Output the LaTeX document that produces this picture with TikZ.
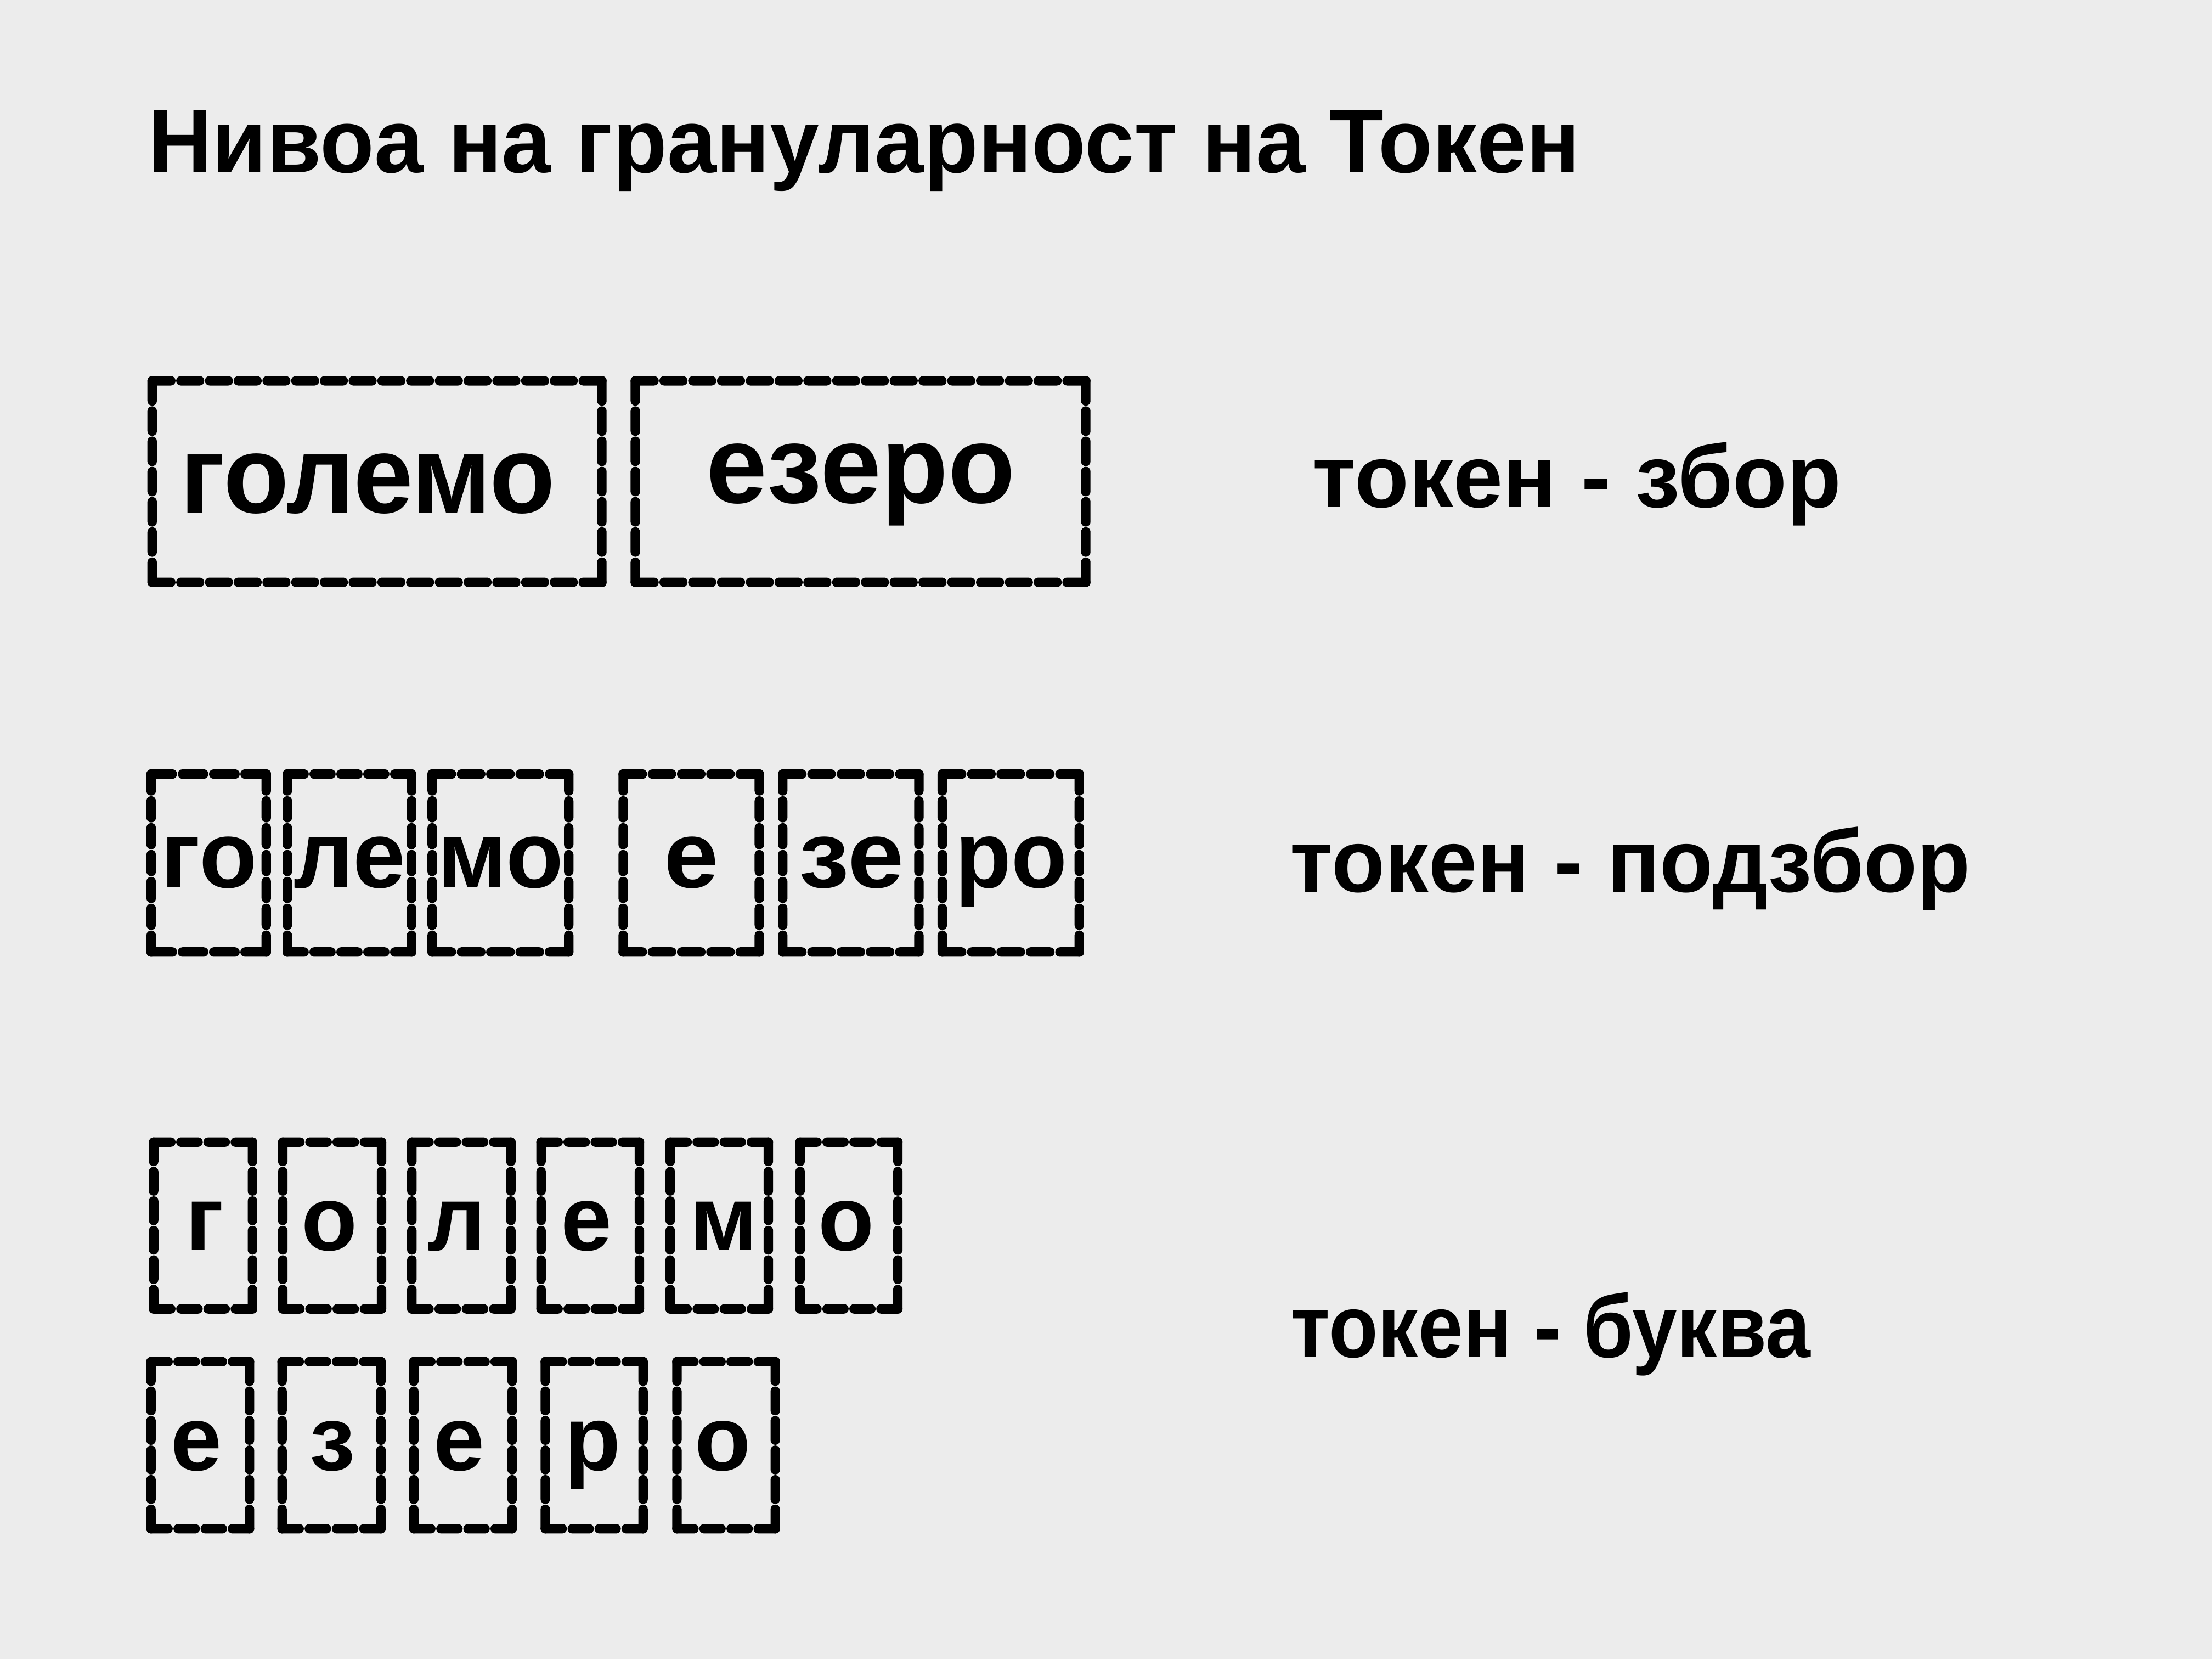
\documentclass[tikz,border=0pt]{standalone}
\usepackage{fontspec}
\setmainfont{Liberation Sans}
\usepackage{graphicx}
\definecolor{bg}{HTML}{ECECEC}
\newcommand{\fitw}[3]{\resizebox{#1pt}{\height}{\fontsize{#2}{#2}\selectfont\bfseries #3}}
\newcommand{\ltr}[2]{{\fontsize{#1}{#1}\selectfont\bfseries #2}}
\tikzset{
  pill/.style={fill=black, rounded corners=3.3pt},
  txt/.style={anchor=base west, inner sep=0pt, text=black},
  lt/.style={anchor=base, inner sep=0pt, text=black}
}
% horizontal dashed side: outer x1, outer x2, centre y
\newcommand{\hside}[3]{%
  \pgfmathsetmacro{\dlen}{#2-#1}%
  \pgfmathtruncatemacro{\dnum}{round(\dlen/20.1)}%
  \pgfmathsetmacro{\dq}{(\dlen+0.45)/\dnum}%
  \foreach \di in {1,...,\dnum}{%
    \path[pill] ({#1+(\di-1)*\dq},{#3-3.35}) rectangle ({#1+\di*\dq-0.45},{#3+3.35});
  }}
% vertical dashed side: outer y1, outer y2, centre x
\newcommand{\vside}[3]{%
  \pgfmathsetmacro{\dlen}{#2-#1}%
  \pgfmathtruncatemacro{\dnum}{round(\dlen/20.1)}%
  \pgfmathsetmacro{\dq}{(\dlen+0.45)/\dnum}%
  \foreach \di in {1,...,\dnum}{%
    \path[pill] ({#3-3.35},{#1+(\di-1)*\dq}) rectangle ({#3+3.35},{#1+\di*\dq-0.45});
  }}
% name, outer left, outer top, outer right, outer bottom
\newcommand{\tbox}[5]{%
  \hside{#2}{#4}{#3+3.35}%
  \hside{#2}{#4}{#5-3.35}%
  \vside{#3}{#5}{#2+3.35}%
  \vside{#3}{#5}{#4-3.35}%
  \coordinate (#1) at ({(#2+#4)/2},{(#3+#5)/2});}
\begin{document}
\begin{tikzpicture}[x=1pt,y=-1pt]
\fill[bg] (0,0) rectangle (1568,1176);
\useasboundingbox (0,0) rectangle (1568,1176);
% title
\node[txt] (title) at (104.8,122.3) {\fitw{1015}{64}{Нивоа на грануларност на Токен}};
% row 1: words
\tbox{w1}{104.5}{266.5}{430}{416}
\tbox{w2}{447}{266.5}{773}{416}
\node[txt] (tw1) at (127.5,363.5) {\fitw{266}{78}{големо}};
\node[txt] (tw2) at (500.5,356.6) {\fitw{219}{78}{езеро}};
\node[txt] (l1) at (930.2,359.4) {\fitw{374.9}{63}{токен - збор}};
% row 2: subwords
\tbox{s1}{103.8}{545.2}{192.1}{678}
\tbox{s2}{200.3}{545.2}{295.1}{678}
\tbox{s3}{303}{545.2}{406.5}{678}
\tbox{s4}{438.4}{545.2}{541.6}{678}
\tbox{s5}{551.5}{545.2}{654.7}{678}
\tbox{s6}{664.6}{545.2}{768.4}{678}
\node[txt] (ts1) at (114,629.2) {\fitw{68.1}{67}{го}};
\node[txt] (ts2) at (208.2,629.2) {\fitw{79}{67}{ле}};
\node[txt] (ts3) at (310.1,629.2) {\fitw{89.2}{67}{мо}};
\node[txt] (ts4) at (470.7,629.2) {\fitw{38.7}{67}{е}};
\node[txt] (ts5) at (566.2,629.2) {\fitw{74.5}{67}{зе}};
\node[txt] (ts6) at (677,629.2) {\fitw{79.3}{67}{ро}};
\node[txt] (l2) at (914.3,632.3) {\fitw{482.2}{63}{токен - подзбор}};
% row 3: letters
\tbox{c1}{105.6}{806}{182.3}{930.9}
\tbox{c2}{197.1}{806}{273.8}{930.9}
\tbox{c3}{288.6}{806}{365.5}{930.9}
\tbox{c4}{380.2}{806}{456.6}{930.9}
\tbox{c5}{471.7}{806}{548}{930.9}
\tbox{c6}{563.8}{806}{639.8}{930.9}
\tbox{d1}{103.7}{961.6}{180.2}{1086.7}
\tbox{d2}{196.6}{961.6}{273.4}{1086.7}
\tbox{d3}{290}{961.6}{366.4}{1086.7}
\tbox{d4}{383.2}{961.6}{459.2}{1086.7}
\tbox{d5}{476.5}{961.6}{552.9}{1086.7}
\node[lt] (tc1) at (145.3,886) {\ltr{65}{г}};
\node[lt] (tc2) at (233.4,886) {\ltr{65}{о}};
\node[lt] (tc3) at (323.9,886) {\ltr{65}{л}};
\node[lt] (tc4) at (415.8,886) {\ltr{65}{е}};
\node[lt] (tc5) at (513,886) {\ltr{65}{м}};
\node[lt] (tc6) at (599.9,886) {\ltr{65}{о}};
\node[lt] (td1) at (139.3,1042) {\ltr{65}{е}};
\node[lt] (td2) at (235.5,1042) {\ltr{65}{з}};
\node[lt] (td3) at (325.5,1042) {\ltr{65}{е}};
\node[lt] (td4) at (420.4,1042) {\ltr{65}{р}};
\node[lt] (td5) at (512.5,1042) {\ltr{65}{о}};
\node[txt] (l3) at (914.5,961.9) {\fitw{368.8}{63}{токен - буква}};
\end{tikzpicture}
\end{document}
